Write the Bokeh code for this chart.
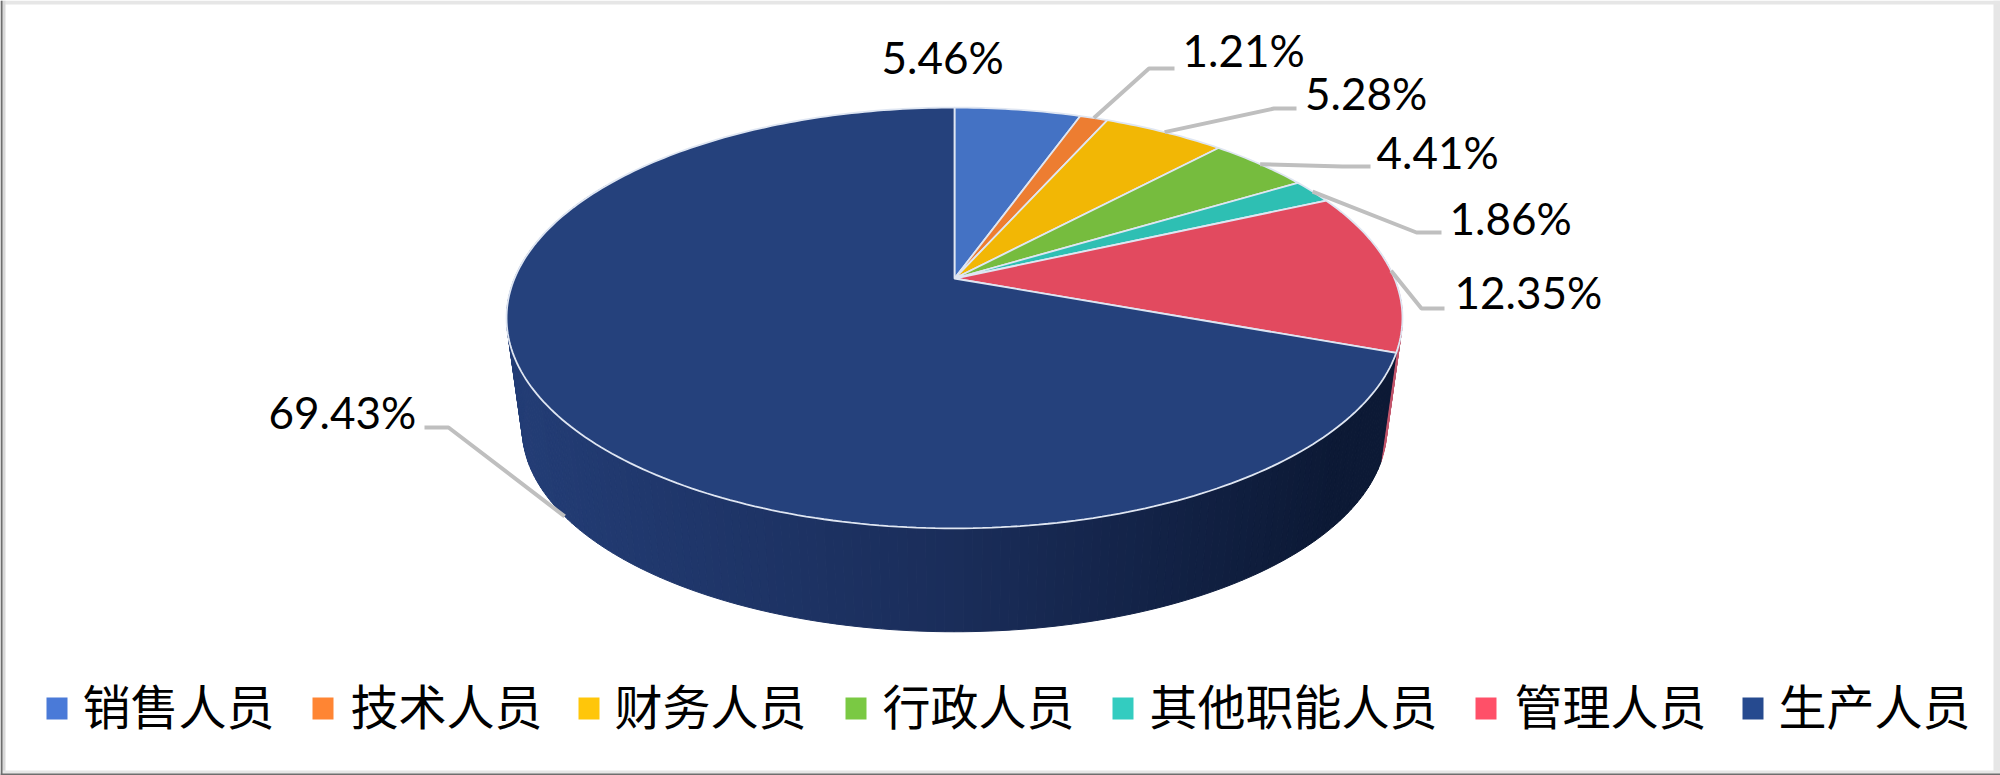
import math
from bokeh.plotting import figure
from bokeh.models import Range1d, ColumnDataSource
from bokeh.core.properties import value
from bokeh.embed import file_html
from bokeh.resources import INLINE

# data
categories = ["销售人员", "技术人员", "财务人员", "行政人员", "其他职能人员", "管理人员", "生产人员"]
shares = [5.46, 1.21, 5.28, 4.41, 1.86, 12.35, 69.43]

# styles
top_colors = ["#4472C4", "#ED7D31", "#F2B705", "#76BC3E", "#2EBFB3", "#E24A5F", "#25417C"]
legend_colors = ["#4A7AD8", "#FF8533", "#FFC60A", "#7AC943", "#33CCC0", "#FF5068", "#264A8F"]

# layout (page pixels): perspective disc projection
CX, CY = 954.0, 278.0
A, B, K = 440.0, 203.0, 0.1876
A2, B2, CY2 = 424.6, 196.0, 390.0

label_pos = [(881, 56.5), (1182, 49), (1304.6, 92), (1376, 151), (1449, 217), (1454, 291), (268, 411)]
elbows = [None, [(1148.5, 68), (1174, 68)], [(1273.5, 108), (1296, 108)], [(1342, 166), (1370, 166)],
          [(1416, 232), (1441, 232)], [(1421, 308), (1444, 308)], [(448, 427), (424, 427)]]
legend_marker_x = [46, 312, 578, 845, 1112, 1475, 1742]
legend_text_x = [82, 350, 614, 882, 1149, 1514, 1778]


def top_pt(deg):
    t = math.radians(deg)
    u, v = math.sin(t), math.cos(t)
    d = 1 + K * v
    return CX + A * u / d, CY - B * v / d


def low_pt(deg):
    t = math.radians(deg)
    u, v = math.sin(t), math.cos(t)
    d = 1 + K * v
    return CX + A2 * u / d, CY2 - B2 * v / d


def mix(c1, c2, f):
    return "#" + "".join(f"{round(a + (b - a) * f):02x}" for a, b in zip(c1, c2))


def side_color(x):
    left, mid, right = (0x23, 0x3d, 0x76), (0x1a, 0x2d, 0x5a), (0x0c, 0x19, 0x35)
    if x < CX:
        return mix(left, mid, max(0, (x - 506) / (CX - 506)))
    return mix(mid, right, min(1, (x - CX) / 380))


p = figure(width=2000, height=775, output_backend="svg", toolbar_location=None,
           x_range=Range1d(0, 2000), y_range=Range1d(775, 0),
           min_border=0, min_border_left=0, min_border_right=0, min_border_top=0, min_border_bottom=0)
p.axis.visible = False
p.grid.visible = False
p.outline_line_color = None
p.background_fill_color = "white"

# picture frame
p.quad(left=[0, 0, 1993, 0, 0], right=[2000, 5, 2000, 2000, 2],
       top=[0, 0, 0, 770, 0], bottom=[4, 775, 775, 775, 775],
       fill_color=["#e6e6e6", "#d9d9d9", "#e6e6e6", "#e6e6e6", "#6e6e6e"], line_color=None)
p.quad(left=[0], right=[2000], top=[773], bottom=[775], fill_color="#6e6e6e", line_color=None)

total = sum(shares)
edges = [0.0]
for s in shares:
    edges.append(edges[-1] + s / total * 360)

# side wall: a run of thin quads around the front of the disc
red_start, red_end = edges[5], edges[6]
xs, ys, cols = [], [], []
for d in range(int(red_end) - 30, int(red_end)):
    a, b = top_pt(d), top_pt(d + 1)
    c, e = low_pt(d + 1), low_pt(d)
    xs.append([a[0], b[0], c[0], e[0]])
    ys.append([a[1], b[1], c[1], e[1]])
    cols.append("#c2566c")
n = 190
for i in range(n):
    d0 = red_end + i
    d1 = d0 + 1
    a, b = top_pt(d0), top_pt(d1)
    c, e = low_pt(d1), low_pt(d0)
    xs.append([a[0], b[0], c[0], e[0]])
    ys.append([a[1], b[1], c[1], e[1]])
    cols.append(side_color((a[0] + e[0]) / 2))
p.patches(xs, ys, fill_color=cols, line_color=cols, line_width=1)

# top face
fx, fy = [], []
for i in range(len(shares)):
    steps = max(3, int(edges[i + 1] - edges[i]) + 1)
    pts = [top_pt(edges[i] + (edges[i + 1] - edges[i]) * j / steps) for j in range(steps + 1)]
    fx.append([CX] + [q[0] for q in pts])
    fy.append([CY] + [q[1] for q in pts])
p.patches(fx, fy, fill_color=top_colors, line_color="#dfe6f2", line_width=1.8)

# leader lines
lx, ly = [], []
for i in range(len(shares)):
    if elbows[i] is None:
        continue
    mid = (edges[i] + edges[i + 1]) / 2
    start = low_pt(mid) if i == len(shares) - 1 else top_pt(mid)
    lx.append([start[0]] + [q[0] for q in elbows[i]])
    ly.append([start[1]] + [q[1] for q in elbows[i]])
p.multi_line(lx, ly, line_color="#BFBFBF", line_width=4)

# data labels
src = ColumnDataSource(dict(x=[q[0] for q in label_pos], y=[q[1] for q in label_pos],
                            t=[f"{s:.2f}%" for s in shares]))
p.text("x", "y", "t", source=src, text_font=value("Lato"), text_font_size="44px",
       text_color="#000000", text_align="left", text_baseline="middle")

# legend
p.quad(left=legend_marker_x, right=[x + 21 for x in legend_marker_x],
       top=[697] * 7, bottom=[719] * 7, fill_color=legend_colors, line_color=None)
p.text(legend_text_x, [703] * 7, text=categories, text_font=value("Noto Sans CJK SC"),
       text_font_size="48px", text_color="#000000", text_align="left", text_baseline="middle")

open("out.html", "w").write(file_html(p, INLINE))
